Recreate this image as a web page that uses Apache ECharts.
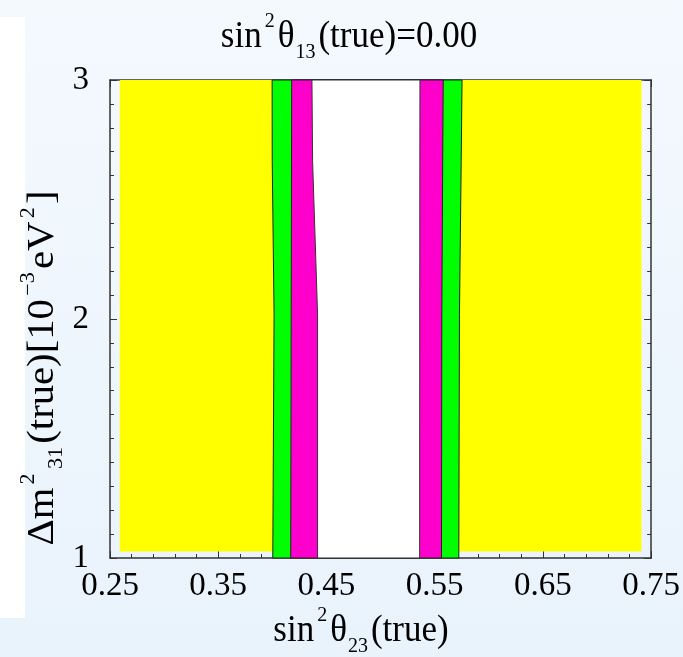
<!DOCTYPE html>
<html>
<head>
<meta charset="utf-8">
<script src="https://cdn.jsdelivr.net/npm/echarts@6/dist/echarts.min.js"></script>
<style>
html, body { margin: 0; padding: 0; }
#chart { width: 683px; height: 657px; }
</style>
</head>
<body>
<div id="chart"></div>
<script>
// contour edges, x read at each of these heights
var yNodes = [1.0, 2.02, 2.66, 3.0];
var greenLeft = [0.4004, 0.4016, 0.3999, 0.3998];
var magentaLeft = [0.4170, 0.4174, 0.4177, 0.4179];
var whiteLeft = [0.4418, 0.4418, 0.4372, 0.4366];
var whiteRight = [0.5361, 0.5362, 0.5363, 0.5364];
var magentaRight = [0.5563, 0.5566, 0.5574, 0.5579];
var greenRight = [0.5723, 0.5729, 0.5745, 0.5753];
var yellowX = [0.259, 0.741];
var yellowY = [1.027, 3.0];

var xRange = [0.25, 0.75];
var yRange = [1, 3];

var serif = 'Liberation Serif';

function band(left, right) {
    var pts = left.map(function (x, i) { return [x, yNodes[i]]; });
    for (var i = right.length - 1; i >= 0; i--) pts.push([right[i], yNodes[i]]);
    return pts;
}

var regions = [
    { color: '#ffff00', stroke: null, pts: [[yellowX[0], yellowY[0]], [yellowX[1], yellowY[0]], [yellowX[1], yellowY[1]], [yellowX[0], yellowY[1]]] },
    { color: '#00ff00', stroke: '#222', pts: band(greenLeft, greenRight) },
    { color: '#ff00cc', stroke: '#222', pts: band(magentaLeft, magentaRight) },
    { color: '#ffffff', stroke: '#333', pts: band(whiteLeft, whiteRight) }
];

var chart = echarts.init(document.getElementById('chart'));

function rich(big) {
    return {
        a: { fontFamily: serif, fontSize: big, lineHeight: 48, fill: '#000' },
        s: { fontFamily: serif, fontSize: 20, lineHeight: 20, verticalAlign: 'top', fill: '#000', padding: [0, 3, 0, 3] },
        b: { fontFamily: serif, fontSize: 20, lineHeight: 20, verticalAlign: 'bottom', fill: '#000', padding: [0, 3, 0, 1] }
    };
}

var axisCommon = {
    type: 'value',
    axisLine: { show: true, onZero: false, lineStyle: { color: '#333', width: 1.5 } },
    axisTick: { show: true, inside: true, length: 7, lineStyle: { color: '#333' } },
    minorTick: { show: true, length: 4, lineStyle: { color: '#333' } },
    splitLine: { show: false }
};

var option = {
    backgroundColor: new echarts.graphic.LinearGradient(0, 0, 0, 1, [
        { offset: 0, color: '#f4f9fe' },
        { offset: 1, color: '#e9f3fc' }
    ]),
    animation: false,
    grid: { left: 110, top: 80, width: 543, height: 478 },
    xAxis: [
        Object.assign({}, axisCommon, {
            min: xRange[0], max: xRange[1], interval: 0.1, position: 'bottom',
            minorTick: Object.assign({}, axisCommon.minorTick, { splitNumber: 5 }),
            axisLabel: { fontFamily: serif, fontSize: 33, color: '#000', margin: 12,
                formatter: function (v) { return v.toFixed(2); } }
        }),
        Object.assign({}, axisCommon, {
            min: xRange[0], max: xRange[1], interval: 0.1, position: 'top',
            minorTick: Object.assign({}, axisCommon.minorTick, { splitNumber: 5 }),
            axisLabel: { show: false }
        })
    ],
    yAxis: [
        Object.assign({}, axisCommon, {
            min: yRange[0], max: yRange[1], interval: 1, position: 'left',
            minorTick: Object.assign({}, axisCommon.minorTick, { splitNumber: 10 }),
            axisLabel: { fontFamily: serif, fontSize: 33, color: '#000', margin: 21 }
        }),
        Object.assign({}, axisCommon, {
            min: yRange[0], max: yRange[1], interval: 1, position: 'right',
            minorTick: Object.assign({}, axisCommon.minorTick, { splitNumber: 10 }),
            axisLabel: { show: false }
        })
    ],
    graphic: [
        { type: 'rect', shape: { x: 0, y: 17, width: 25, height: 601 }, style: { fill: '#fff' } },
        { type: 'text', x: 349, y: 37, scaleY: 1.1, style: {
            text: '{a|sin}{s|2}{a|θ}{b|13}{a|(true)=0.00}', rich: rich(35),
            align: 'center', verticalAlign: 'middle' } },
        { type: 'text', x: 361, y: 631, scaleY: 1.1, style: {
            text: '{a|sin}{s|2}{a|θ}{b|23}{a|(true)}', rich: rich(35),
            align: 'center', verticalAlign: 'middle' } },
        { type: 'text', x: 43, y: 368, rotation: Math.PI / 2, scaleX: 1.1, style: {
            text: '{a|Δm}{s|2}{b|31}{a|(true)[10}{s|−3}{a|eV}{s|2}{a|]}', rich: rich(37),
            align: 'center', verticalAlign: 'middle' } }
    ],
    series: [{
        type: 'custom',
        coordinateSystem: 'cartesian2d',
        renderItem: function (params, api) {
            var r = regions[params.dataIndex];
            var points = r.pts.map(function (p) { return api.coord(p); });
            return {
                type: 'polygon',
                shape: { points: points },
                style: { fill: r.color, stroke: r.stroke, lineWidth: 1 }
            };
        },
        data: regions.map(function (r) { return r.pts[0]; })
    }]
};

chart.setOption(option);
</script>
</body>
</html>
